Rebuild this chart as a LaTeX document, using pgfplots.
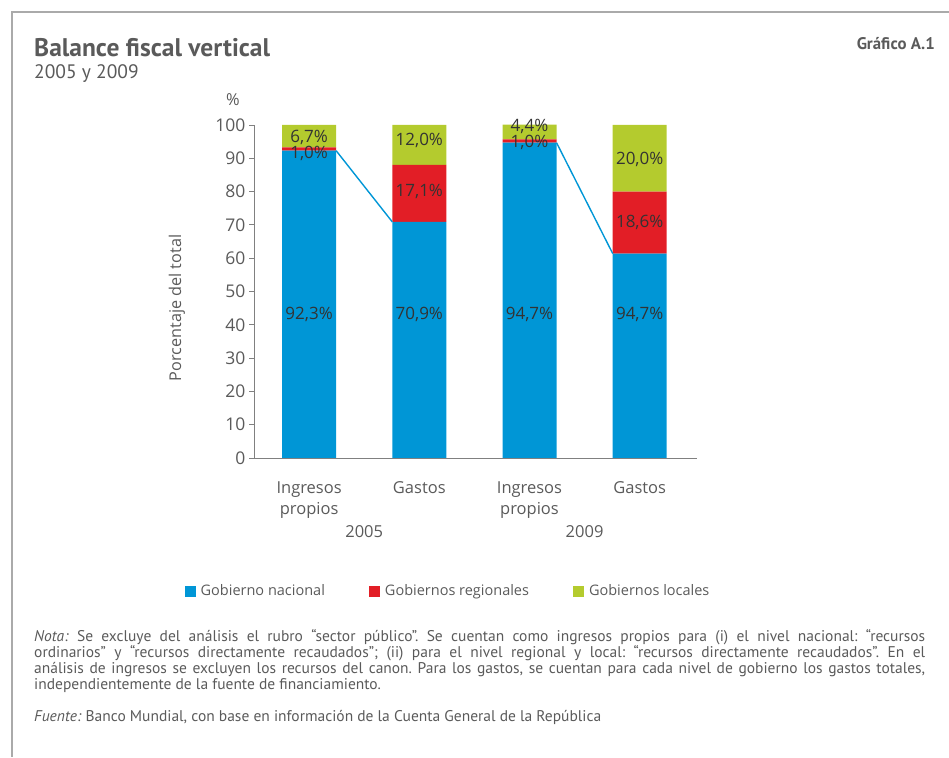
\documentclass[border=0pt]{standalone}
\usepackage{fontspec}
\setmainfont{Open Sans}
\newfontfamily\ptsans{PT Sans}
\usepackage{pgfplots}
\pgfplotsset{compat=1.18}
\definecolor{cblue}{RGB}{0,150,214}
\definecolor{cred}{RGB}{226,30,38}
\definecolor{cgreen}{RGB}{180,203,46}
\definecolor{txtgray}{RGB}{90,90,90}
\definecolor{lbl}{RGB}{51,51,51}
\definecolor{framegray}{RGB}{170,170,170}
\begin{document}
\begin{tikzpicture}[x=1pt,y=1pt]
\path[use as bounding box] (0pt,0pt) rectangle (949pt,757pt);
% frame
\draw[framegray, line width=1.3pt] (949pt,745pt) -- (12pt,745pt) -- (12pt,0pt);
% titles
\node[anchor=base west, inner sep=0, text=txtgray, font=\ptsans\bfseries\fontsize{25.5}{28}\selectfont] at (34pt,700pt) {Balance fiscal vertical};
\node[anchor=base west, inner sep=0, text=txtgray, font=\ptsans\fontsize{19.5}{22}\selectfont] at (34pt,678pt) {2005 y 2009};
\node[anchor=base east, inner sep=0, text=txtgray, font=\ptsans\bfseries\fontsize{16.8}{19}\selectfont] at (935pt,707pt) {Gráfico A.1};
\node[text=txtgray, font=\fontsize{16.5}{18}\selectfont] at (233pt,657pt) {\%};
\node[rotate=90, text=txtgray, font=\fontsize{16.2}{18}\selectfont] at (177pt,449pt) {Porcentaje del total};

\begin{axis}[
  at={(254pt,299pt)}, anchor=south west,
  scale only axis, width=443pt, height=333pt,
  clip=false,
  ybar stacked, bar width=0.49,
  xmin=-0.5, xmax=3.52, ymin=0, ymax=100,
  axis x line*=bottom, axis y line*=left,
  axis line style={draw=gray, line width=0.8pt, -},
  ytick={0,10,...,100},
  tick align=outside, major tick length=5pt,
  ytick style={draw=gray, line width=0.8pt},
  xtick={0,1,2,3},
  xticklabels={{Ingresos\\propios},Gastos,{Ingresos\\propios},Gastos},
  xtick style={draw=none},
  xticklabel style={align=center, text=txtgray, font=\fontsize{16.5}{21}\selectfont, yshift=-15pt, anchor=north},
  yticklabel style={text=txtgray, font=\fontsize{17.5}{19}\selectfont},
  /pgf/number format/assume math mode=true,
  legend columns=3,
  legend style={at={(0.438,-0.40)}, anchor=center, draw=none, fill=none,
    font=\fontsize{14.5}{17}\selectfont, text=txtgray,
    /tikz/every odd column/.append style={column sep=3pt},
    /tikz/every even column/.append style={column sep=42pt}},
  legend image code/.code={\fill[#1] (0pt,-5.5pt) rectangle (11pt,5.5pt);},
]
\addplot[fill=cblue, draw=none] coordinates {(0,92.3) (1,70.9) (2,94.7) (3,61.4)};
\addplot[fill=cred, draw=none] coordinates {(0,1.0) (1,17.1) (2,1.0) (3,18.6)};
\addplot[fill=cgreen, draw=none] coordinates {(0,6.7) (1,12.0) (2,4.4) (3,20.0)};
\legend{Gobierno nacional,Gobiernos regionales,Gobiernos locales}
\node[text=txtgray, font=\fontsize{16.5}{18}\selectfont] at (axis cs:0.5,0) [yshift=-74pt] {2005};
\node[text=txtgray, font=\fontsize{16.5}{18}\selectfont] at (axis cs:2.5,0) [yshift=-74pt] {2009};
\end{axis}

\begin{axis}[
  at={(254pt,299pt)}, anchor=south west,
  scale only axis, width=443pt, height=333pt,
  xmin=-0.5, xmax=3.52, ymin=0, ymax=100,
  axis lines=none, ticks=none, clip=false,
]
\addplot[cblue, line width=1.4pt, mark=none] coordinates {(0.245,92.3) (0.755,70.9)};
\addplot[cblue, line width=1.4pt, mark=none] coordinates {(2.245,94.7) (2.755,61.4)};
\addplot[draw=none, mark=none, nodes near coords, point meta=explicit symbolic,
  every node near coord/.append style={anchor=center, inner sep=0pt, text=lbl, font=\fontsize{17}{19}\selectfont}]
  table[meta=label] {
x y label
0 43.2 92,3\%
0 91.6 1,0\%
0 96.2 6,7\%
1 43.2 70,9\%
1 80.0 17,1\%
1 95.3 12,0\%
2 43.2 94,7\%
2 94.9 1,0\%
2 99.6 4,4\%
3 43.2 94,7\%
3 70.6 18,6\%
3 89.6 20,0\%
};
\end{axis}

\node[anchor=north west, inner sep=0, text width=891pt, align=justify, text=txtgray,
  font=\ptsans\fontsize{15.5}{16}\selectfont] at (34pt,128pt) {\frenchspacing\hyphenpenalty=10000\exhyphenpenalty=10000%
\textit{Nota:} Se excluye del análisis el rubro “sector público”. Se cuentan como ingresos propios para (i) el nivel nacional: “recursos\linebreak ordinarios” y “recursos directamente recaudados”; (ii) para el nivel regional y local: “recursos directamente recaudados”. En el\linebreak análisis de ingresos se excluyen los recursos del canon. Para los gastos, se cuentan para cada nivel de gobierno los gastos totales,\linebreak independientemente de la fuente de financiamiento.\par
\vspace{16pt}
\textit{Fuente:} Banco Mundial, con base en información de la Cuenta General de la República};
\end{tikzpicture}
\end{document}
